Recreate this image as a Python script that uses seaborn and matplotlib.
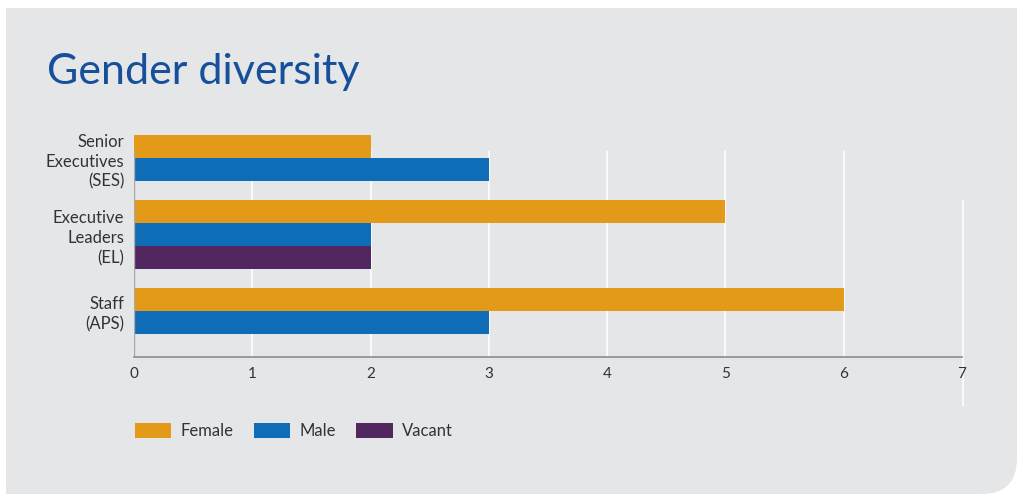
import numpy as np
import pandas as pd
import matplotlib
matplotlib.use("Agg")
import matplotlib.pyplot as plt
from matplotlib.patches import FancyBboxPatch, Rectangle, Patch
import seaborn as sns

# ---- data ----
categories = ["Senior\nExecutives\n(SES)", "Executive\nLeaders\n(EL)", "Staff\n(APS)"]
genders = ["Female", "Male", "Vacant"]
female = [2, 5, 6]
male = [3, 2, 3]
vacant = [0, 2, 0]
x_ticks = [0, 1, 2, 3, 4, 5, 6, 7]

colors = {"Female": "#E39A18", "Male": "#0E6DB6", "Vacant": "#52265F"}
GAP = 0.8  # gap between groups, in bar heights

# build long table; bars within a group are stacked contiguously
rows = []
group_centers = []
offset = 0.0
for ci, cat in enumerate(categories):
    vals = {"Female": female[ci], "Male": male[ci], "Vacant": vacant[ci]}
    present = [g for g in genders if vals[g] > 0]
    for i, g in enumerate(present):
        rows.append({"category": cat, "gender": g, "value": vals[g], "pos": offset + i})
    group_centers.append(offset + (len(present) - 1) / 2)
    offset += len(present) + GAP
df = pd.DataFrame(rows)
df["pos"] = df["pos"].astype(float)

sns.set_style("white")
plt.rcParams["font.family"] = ["Lato", "DejaVu Sans"]

W, H = 1017, 495
fig = plt.figure(figsize=(W / 100, H / 100), dpi=100)
fig.patch.set_facecolor("white")

def fx(px):
    return px / W

def fy(py):
    return 1 - py / H

# background panel with rounded bottom-right corner
panel_c = "#E5E6E8"
x0, y0, x1, y1 = 6, 8, 1017, 494
fig.add_artist(FancyBboxPatch((fx(x0), fy(y1)), fx(x1) - fx(x0), fy(y0) - fy(y1),
                              boxstyle="round,pad=0,rounding_size=0.035",
                              mutation_aspect=W / H,
                              transform=fig.transFigure, facecolor=panel_c,
                              edgecolor="none", zorder=0))
for (cx, cy) in [(x0, y0), (x0, y1 - 40), (x1 - 40, y0)]:
    fig.add_artist(Rectangle((fx(cx), fy(cy + 40)), fx(40), 40 / H,
                             transform=fig.transFigure, facecolor=panel_c,
                             edgecolor="none", zorder=0))

fig.text(fx(47), fy(84), "Gender diversity", fontsize=31, color="#17509A",
         fontweight="normal", va="baseline", ha="left")

ax_l, ax_r, ax_b, ax_t = 134, 962, 357, 130
ax = fig.add_axes([fx(ax_l), fy(ax_b), fx(ax_r) - fx(ax_l), (ax_b - ax_t) / H])
ax.set_facecolor("none")

sns.barplot(data=df, x="value", y="pos", hue="gender", hue_order=genders,
            palette=colors, orient="h", native_scale=True, dodge=False,
            width=1.0, errorbar=None, saturation=1, ax=ax, legend=False,
            linewidth=0, zorder=3)

ax.set_xlim(0, 7)
# y limits in bar-height units
px_per = (334 - 135) / (df["pos"].max() + 1)
top = -0.5 - (135 - ax_t) / px_per
bot = df["pos"].max() + 0.5 + (ax_b - 334) / px_per
ax.set_ylim(bot, top)

ax.set_yticks(group_centers)
ax.set_yticklabels(categories, fontsize=12, color="#333333", ha="right",
                   linespacing=1.3)
ax.set_xticks(x_ticks)
ax.set_xticklabels([str(t) for t in x_ticks], fontsize=11, color="#333333")
ax.tick_params(axis="both", length=0)
ax.tick_params(axis="x", pad=7)
ax.tick_params(axis="y", pad=7)
ax.set_xlabel("")
ax.set_ylabel("")

for s in ["top", "right", "left"]:
    ax.spines[s].set_visible(False)
ax.spines["bottom"].set_color("#8C8C8C")
ax.spines["bottom"].set_linewidth(1.2)
ax.spines["bottom"].set_zorder(4)

grid_top = (ax_b - 151) / (ax_b - ax_t)
for t in x_ticks[1:-1]:
    ax.axvline(t, ymin=0, ymax=grid_top, color="white", lw=1.1, zorder=0.5)
ax.axvline(0, ymin=0, ymax=grid_top, color="#A8A8A8", lw=1.0, zorder=4)
# last gridline is offset in the original
ax.axvline(x_ticks[-1] + 0.012, ymin=(ax_b - 406) / (ax_b - ax_t),
           ymax=(ax_b - 200) / (ax_b - ax_t), color="white", lw=1.1,
           zorder=0.5, clip_on=False)

handles = [Patch(facecolor=colors[g], edgecolor="none", label=g) for g in genders]
fig.legend(handles=handles, loc="center left", bbox_to_anchor=(fx(128), fy(431)),
           ncol=3, frameon=False, fontsize=12, handlelength=2.2,
           handleheight=1.0, handletextpad=0.55, columnspacing=1.2,
           labelcolor="#333333", borderaxespad=0)

fig.savefig("out.png", dpi=100, facecolor="white")
